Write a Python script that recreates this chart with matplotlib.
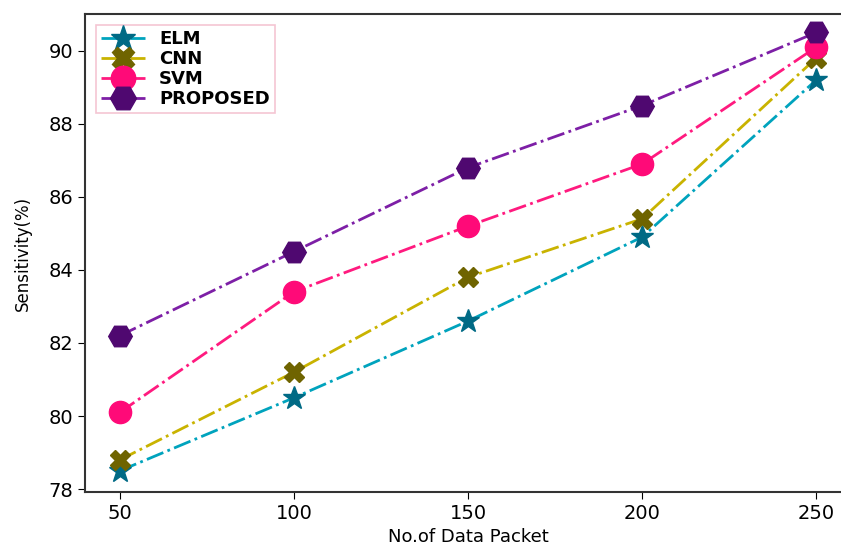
import matplotlib
matplotlib.use("Agg")
from matplotlib import pyplot as plt

packets = [50, 100, 150, 200, 250]
elm = [78.5, 80.5, 82.6, 84.9, 89.2]
cnn = [78.8, 81.2, 83.8, 85.4, 89.8]
svm = [80.1, 83.4, 85.2, 86.9, 90.1]
proposed = [82.2, 84.5, 86.8, 88.5, 90.5]

series = [
    ("ELM", elm, "*", "#00a3bd", "#006a85", 17),
    ("CNN", cnn, "X", "#c9b300", "#6f6400", 15),
    ("SVM", svm, "o", "#ff1a7f", "#ff0a78", 16),
    ("PROPOSED", proposed, "H", "#7d1fa6", "#4f0870", 17),
]


def main():
    fig = plt.figure(figsize=(8.41, 5.47), dpi=100)
    ax = fig.add_axes([0.101, 0.1005, 0.911, 0.8735])
    for name, vals, marker, line_c, face_c, ms in series:
        ax.plot(packets, vals, linestyle="-.", linewidth=2, color=line_c,
                marker=marker, markersize=ms, markerfacecolor=face_c,
                markeredgecolor=face_c, label=name)
    ax.set_xlim(40, 260)
    ax.set_ylim(77.92, 91.0)
    ax.set_xticks(packets)
    ax.set_yticks([78, 80, 82, 84, 86, 88, 90])
    ax.tick_params(labelsize=14, length=5)
    ax.set_xlabel("No.of Data Packet", fontsize=13)
    ax.set_ylabel("Sensitivity(%)", fontsize=12, labelpad=12)
    for sp in ax.spines.values():
        sp.set_linewidth(1.5)
        sp.set_color("#333333")
    leg = ax.legend(loc="upper left", prop={"weight": "bold", "size": 13},
                    frameon=True, fancybox=False, borderpad=0.3,
                    handlelength=2.4, labelspacing=0.1, markerscale=1.1,
                    borderaxespad=0.6)
    leg.get_frame().set_edgecolor("#f2b8c8")
    leg.get_frame().set_linewidth(1.2)
    fig.savefig("out.png", dpi=100)


if __name__ == "__main__":
    main()
